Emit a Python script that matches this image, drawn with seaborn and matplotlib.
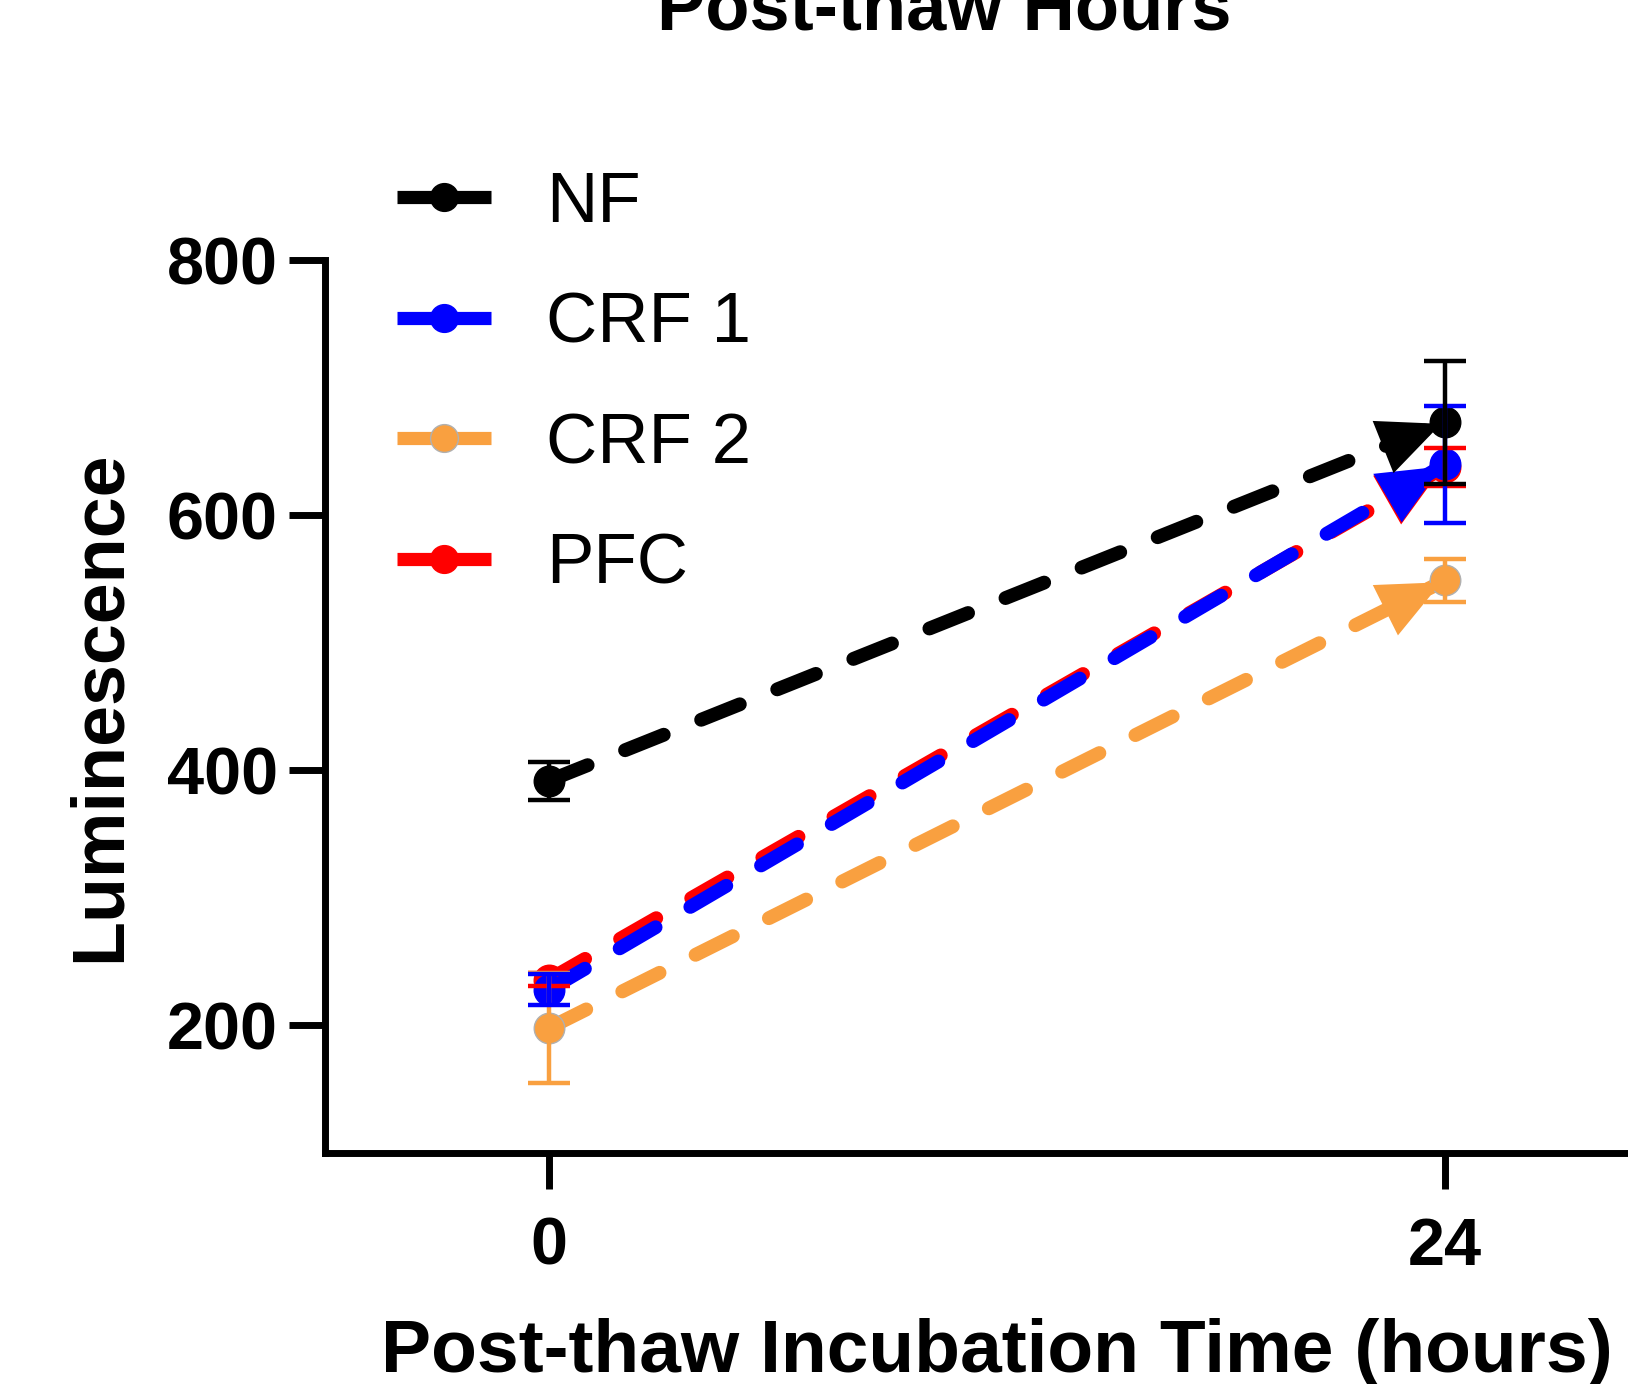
import numpy as np
import pandas as pd
import matplotlib
matplotlib.use('Agg')
import matplotlib.pyplot as plt
from matplotlib.lines import Line2D
import seaborn as sns

# data
hours = [0, 24]
groups = ['NF', 'CRF 1', 'CRF 2', 'PFC']
nf_mean = [392, 673]
nf_err = [15, 48]
crf1_mean = [228, 640]
crf1_err = [12, 46]
crf2_mean = [198, 549]
crf2_err = [43, 17]
pfc_mean = [236, 638]
pfc_err = [5, 15]

colors = {'NF': '#000000', 'CRF 1': '#0000FF', 'CRF 2': '#F9A040', 'PFC': '#FF0000'}
edge = {'NF': '#000000', 'CRF 1': '#0000FF', 'CRF 2': '#B0B0B0', 'PFC': '#FF0000'}

means = {'NF': nf_mean, 'CRF 1': crf1_mean, 'CRF 2': crf2_mean, 'PFC': pfc_mean}
errs = {'NF': nf_err, 'CRF 1': crf1_err, 'CRF 2': crf2_err, 'PFC': pfc_err}

rows = []
for g in groups:
    for h, m, e in zip(hours, means[g], errs[g]):
        rows.append({'time': h, 'lum': m, 'err': e, 'group': g})
df = pd.DataFrame(rows)

sns.set_theme(style='ticks')
plt.rcParams['font.family'] = ['Liberation Sans', 'DejaVu Sans']
plt.rcParams.update({'text.color': 'black', 'axes.labelcolor': 'black',
                     'xtick.color': 'black', 'ytick.color': 'black',
                     'axes.edgecolor': 'black'})

fig = plt.figure(figsize=(16.28, 13.84), dpi=100)
ax = fig.add_axes([0.1996, 0.1669, 0.8256, 0.645])

# draw order: red under blue, black on top
draw_order = ['PFC', 'CRF 2', 'CRF 1', 'NF']
dash = (3.0, 2.9)
for i, g in enumerate(draw_order):
    sub = df[df['group'] == g]
    before = len(ax.lines)
    sns.lineplot(data=sub, x='time', y='lum', color=colors[g], ax=ax,
                 linewidth=10, marker='o', markersize=22,
                 markeredgecolor=edge[g], markeredgewidth=1,
                 legend=False, zorder=2 + i)
    ln = ax.lines[before]
    ln.set_dashes(dash)
    ln.set_dash_capstyle('round')
    # big arrow head at the 24 h point (shaft invisible)
    x0, x1 = sub['time'].values
    y0, y1 = sub['lum'].values
    xs = x0 + 0.8 * (x1 - x0)
    ys = y0 + 0.8 * (y1 - y0)
    ax.annotate('', xy=(x1, y1), xytext=(xs, ys),
                arrowprops=dict(arrowstyle='-|>,head_length=3.0,head_width=1.35',
                                mutation_scale=15, fc=colors[g], ec='none',
                                lw=0, shrinkA=0, shrinkB=3),
                zorder=2 + i)

for i, g in enumerate(draw_order):
    sub = df[df['group'] == g]
    ax.errorbar(sub['time'], sub['lum'], yerr=sub['err'], fmt='none',
                ecolor=colors[g], elinewidth=3.2, capsize=15, capthick=3.2,
                zorder=10 + i)

ax.set_xlim(-6, 30)
ax.set_ylim(100, 800)
ax.set_xticks(hours)
ax.set_yticks([200, 400, 600, 800])
ax.spines['top'].set_visible(False)
ax.spines['right'].set_visible(False)
for s in ['left', 'bottom']:
    ax.spines[s].set_linewidth(5)
ax.tick_params(axis='both', width=5, length=26, direction='out',
               labelsize=48, color='black')
ax.tick_params(axis='y', pad=8)
ax.tick_params(axis='x', pad=20)
for lab in ax.get_xticklabels() + ax.get_yticklabels():
    lab.set_fontweight('bold')

ax.set_xlabel('Post-thaw Incubation Time (hours)', fontsize=54,
              fontweight='bold', labelpad=28)
ax.set_ylabel('Luminescence', fontsize=53, fontweight='bold', labelpad=23)

fig.text(0.58, 1 - 29 / 1384, 'Post-thaw Hours', fontsize=52,
         fontweight='bold', ha='center', va='baseline')

handles = []
for g in groups:
    h = Line2D([0], [0], color=colors[g], lw=9.5, marker='o', markersize=20,
               markeredgecolor=edge[g], markeredgewidth=1,
               solid_capstyle='butt')
    handles.append(h)
fig.legend(handles, groups, loc='upper left',
           bbox_to_anchor=(397 / 1628, 1 - 171 / 1384),
           frameon=False, fontsize=51, handlelength=1.32, handletextpad=0.79,
           labelspacing=0.77, borderpad=0, borderaxespad=0)

fig.savefig('out.png', dpi=100)
plt.close(fig)
